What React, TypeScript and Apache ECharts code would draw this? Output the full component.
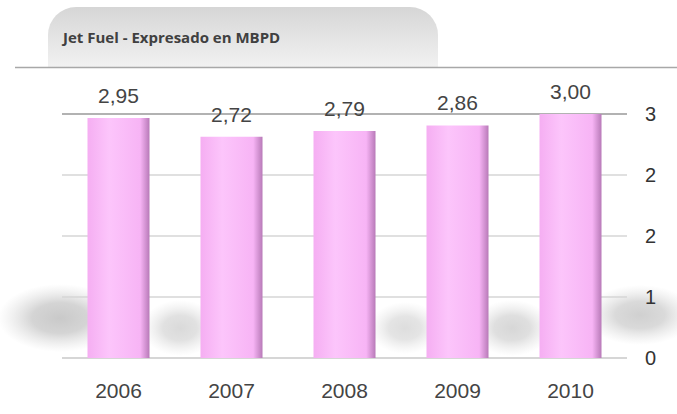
import React, { useEffect, useRef } from "react";
import * as echarts from "echarts";

const categories = ["2006", "2007", "2008", "2009", "2010"];
const values = [2.95, 2.72, 2.79, 2.86, 3.0];
const title = "Jet Fuel - Expresado en MBPD";

function blob(cx: number, cy: number, rx: number, ry: number, a: number) {
  return {
    type: "ellipse",
    shape: { cx, cy, rx, ry },
    style: {
      fill: new echarts.graphic.RadialGradient(0.5, 0.5, 0.5, [
        { offset: 0, color: `rgba(120,120,120,${a})` },
        { offset: 0.45, color: `rgba(130,130,130,${a * 0.85})` },
        { offset: 1, color: "rgba(170,170,170,0)" },
      ]),
    },
    silent: true,
    z: -10,
  };
}

export default function App() {
  const ref = useRef<HTMLDivElement>(null);
  useEffect(() => {
    if (!ref.current) return;
    const chart = echarts.init(ref.current, null, { renderer: "svg" });
    const barColor = new echarts.graphic.LinearGradient(0, 0, 1, 0, [
      { offset: 0, color: "#f5aef2" },
      { offset: 0.35, color: "#fcc5fb" },
      { offset: 0.85, color: "#f7b4f5" },
      { offset: 1, color: "#b87ab8" },
    ]);
    chart.setOption({
      animation: false,
      backgroundColor: "#ffffff",
      graphic: [
        {
          type: "rect",
          shape: { x: 48, y: 7, width: 390, height: 61, r: [28, 28, 0, 0] },
          style: {
            fill: new echarts.graphic.LinearGradient(0, 0, 0, 1, [
              { offset: 0, color: "#d6d6d6" },
              { offset: 1, color: "#f2f2f2" },
            ]),
          },
          z: 1,
        },
        {
          type: "line",
          shape: { x1: 15, y1: 67.5, x2: 677, y2: 67.5 },
          style: { stroke: "#a8a8a8", lineWidth: 1.5 },
          z: 2,
        },
        {
          type: "text",
          x: 63,
          y: 37,
          style: {
            text: title,
            font: "bold 15px 'Open Sans', sans-serif",
            fill: "#404040",
            textVerticalAlign: "middle",
          },
          z: 3,
        },
        blob(60, 318, 62, 34, 0.4),
        blob(180, 328, 38, 28, 0.28),
        blob(405, 328, 36, 26, 0.25),
        blob(512, 328, 40, 28, 0.3),
        blob(640, 315, 55, 30, 0.35),
      ],
      grid: {
        left: 62,
        right: 50,
        top: 114,
        bottom: 56,
        containLabel: false,
        outerBoundsMode: "none",
      },
      xAxis: {
        type: "category",
        data: categories,
        axisLine: { show: false },
        axisTick: { show: false },
        axisLabel: {
          margin: 22,
          fontSize: 21,
          color: "#444444",
          fontFamily: "'Liberation Sans', Arial, sans-serif",
        },
      },
      yAxis: {
        type: "value",
        position: "right",
        min: 0,
        max: 3,
        interval: 0.75,
        axisLine: { show: false },
        axisTick: { show: false },
        axisLabel: {
          margin: 18,
          fontSize: 20,
          color: "#333333",
          fontFamily: "'Liberation Sans', Arial, sans-serif",
          formatter: (v: number) => String(Math.round(v)),
        },
        splitLine: {
          lineStyle: {
            color: ["#c8c8c8", "#d6d6d6", "#d6d6d6", "#d6d6d6", "#999999"],
            width: 1.5,
          },
        },
      },
      series: [
        {
          type: "bar",
          data: values,
          barWidth: 62,
          itemStyle: { color: barColor },
          label: {
            show: true,
            position: "top",
            distance: 12,
            fontSize: 21,
            color: "#444444",
            fontFamily: "'Liberation Sans', Arial, sans-serif",
            formatter: (p: any) => Number(p.value).toFixed(2).replace(".", ","),
          },
          z: 5,
        },
      ],
    });
    return () => chart.dispose();
  }, []);
  return (
    <div
      ref={ref}
      style={{ position: "fixed", left: 0, top: 0, width: 677, height: 414 }}
    />
  );
}
